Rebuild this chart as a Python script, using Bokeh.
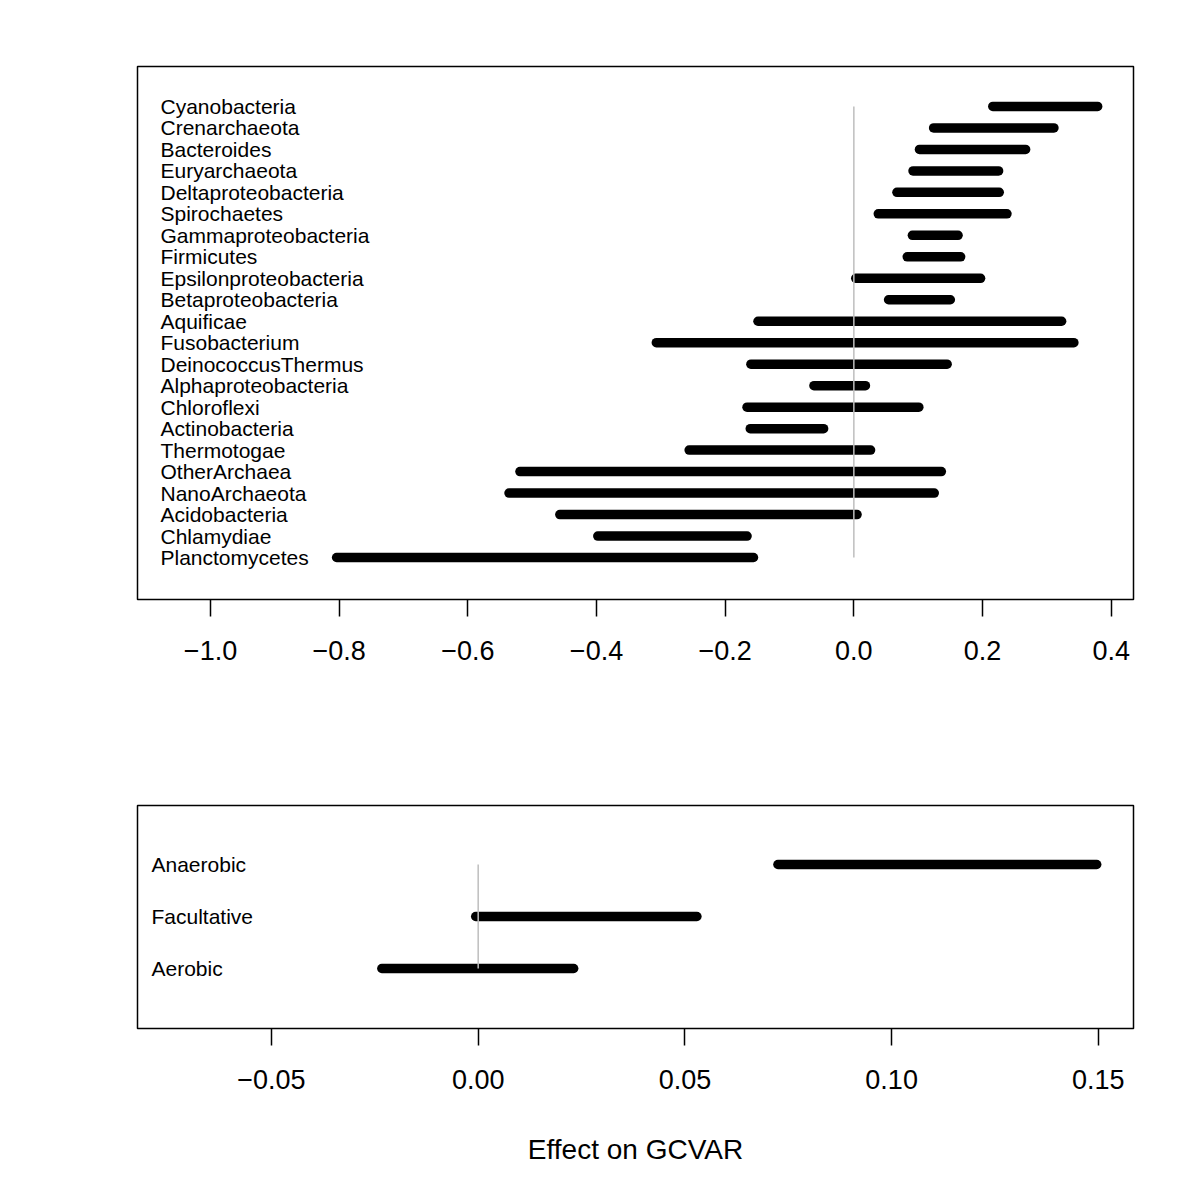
from bokeh.plotting import figure
from bokeh.layouts import column
from bokeh.models import Range1d, FixedTicker, ColumnDataSource
from bokeh.core.properties import value
from bokeh.embed import file_html
from bokeh.resources import INLINE

# ---- data (top panel, listed top to bottom) ----
phyla = ["Cyanobacteria", "Crenarchaeota", "Bacteroides", "Euryarchaeota",
         "Deltaproteobacteria", "Spirochaetes", "Gammaproteobacteria", "Firmicutes",
         "Epsilonproteobacteria", "Betaproteobacteria", "Aquificae", "Fusobacterium",
         "DeinococcusThermus", "Alphaproteobacteria", "Chloroflexi", "Actinobacteria",
         "Thermotogae", "OtherArchaea", "NanoArchaeota", "Acidobacteria",
         "Chlamydiae", "Planctomycetes"]
phyla_low = [0.216, 0.124, 0.102, 0.092, 0.067, 0.038, 0.091, 0.083, 0.003, 0.054,
             -0.149, -0.307, -0.160, -0.062, -0.166, -0.161, -0.256, -0.519, -0.536,
             -0.457, -0.398, -0.804]
phyla_high = [0.379, 0.311, 0.267, 0.225, 0.226, 0.238, 0.162, 0.166, 0.197, 0.150,
              0.323, 0.342, 0.145, 0.018, 0.101, -0.047, 0.026, 0.136, 0.125,
              0.005, -0.166, -0.156]

# ---- data (bottom panel, listed top to bottom) ----
oxygen = ["Anaerobic", "Facultative", "Aerobic"]
oxygen_low = [0.0725, -0.0006, -0.0233]
oxygen_high = [0.1496, 0.0529, 0.0231]

top_ticks = [-1.0, -0.8, -0.6, -0.4, -0.2, 0.0, 0.2, 0.4]
top_tick_labels = ["\u22121.0", "\u22120.8", "\u22120.6", "\u22120.4", "\u22120.2", "0.0", "0.2", "0.4"]
bot_ticks = [-0.05, 0.0, 0.05, 0.10, 0.15]
bot_tick_labels = ["\u22120.05", "0.00", "0.05", "0.10", "0.15"]
x_title = "Effect on GCVAR"

FONT = "Liberation Sans"
BAR_W = 9.5


def style(p, ticks, tick_labels):
    p.xgrid.visible = False
    p.ygrid.visible = False
    p.yaxis.visible = False
    p.outline_line_color = "black"
    p.outline_line_width = 1.5
    p.outline_line_alpha = 1.0
    p.background_fill_color = "white"
    p.border_fill_color = "white"
    ax = p.xaxis[0]
    ax.ticker = FixedTicker(ticks=ticks)
    ax.major_label_overrides = {t: l for t, l in zip(ticks, tick_labels)}
    ax.axis_line_color = None
    ax.major_tick_line_color = "black"
    ax.major_tick_line_width = 1.5
    ax.major_tick_out = 17
    ax.major_tick_in = 0
    ax.minor_tick_line_color = None
    ax.major_label_text_font = FONT
    ax.major_label_text_font_size = "27px"
    ax.major_label_text_color = "black"
    ax.major_label_standoff = 24


# ---- top figure ----
n = len(phyla)
ys = [n - i for i in range(n)]
x0, x1 = -1.1135, 0.4347
p1 = figure(frame_width=996, frame_height=533, min_border_left=137, min_border_right=43,
            min_border_top=66, min_border_bottom=120,
            x_range=Range1d(x0, x1), y_range=Range1d(-0.955, n + 1.86),
            output_backend="svg", toolbar_location=None, tools="")
style(p1, top_ticks, top_tick_labels)
src1 = ColumnDataSource(dict(name=phyla, lo=phyla_low, hi=phyla_high, y=ys,
                             lx=[x0 + 23 / 643.4] * n))
p1.segment(x0="lo", y0="y", x1="hi", y1="y", source=src1, line_color="black",
           line_width=BAR_W, line_cap="round")
p1.segment(x0=[0], y0=[min(ys)], x1=[0], y1=[max(ys)], line_color="#BEBEBE", line_width=1.5)
p1.text(x="lx", y="y", text="name", source=src1, text_font=value(FONT),
        text_font_size="21px", text_align="left", text_baseline="middle", text_color="black")

# ---- bottom figure ----
m = len(oxygen)
ys2 = [m - i for i in range(m)]
bx0, bx1 = -0.0824, 0.1585
p2 = figure(frame_width=996, frame_height=223, min_border_left=137, min_border_right=43,
            min_border_top=86, min_border_bottom=150,
            x_range=Range1d(bx0, bx1), y_range=Range1d(-0.154, 4.135),
            output_backend="svg", toolbar_location=None, tools="")
style(p2, bot_ticks, bot_tick_labels)
ax2 = p2.xaxis[0]
ax2.axis_label = x_title
ax2.axis_label_text_font = FONT
ax2.axis_label_text_font_size = "28px"
ax2.axis_label_text_font_style = "normal"
ax2.axis_label_text_color = "black"
ax2.axis_label_standoff = 42
src2 = ColumnDataSource(dict(name=oxygen, lo=oxygen_low, hi=oxygen_high, y=ys2,
                             lx=[bx0 + 14 / 4136.5] * m))
p2.segment(x0="lo", y0="y", x1="hi", y1="y", source=src2, line_color="black",
           line_width=BAR_W, line_cap="round")
p2.segment(x0=[0], y0=[min(ys2)], x1=[0], y1=[max(ys2)], line_color="#BEBEBE", line_width=1.5)
p2.text(x="lx", y="y", text="name", source=src2, text_font=value(FONT),
        text_font_size="21px", text_align="left", text_baseline="middle", text_color="black")

layout = column(p1, p2, spacing=0)
open("out.html", "w").write(file_html(layout, INLINE))
